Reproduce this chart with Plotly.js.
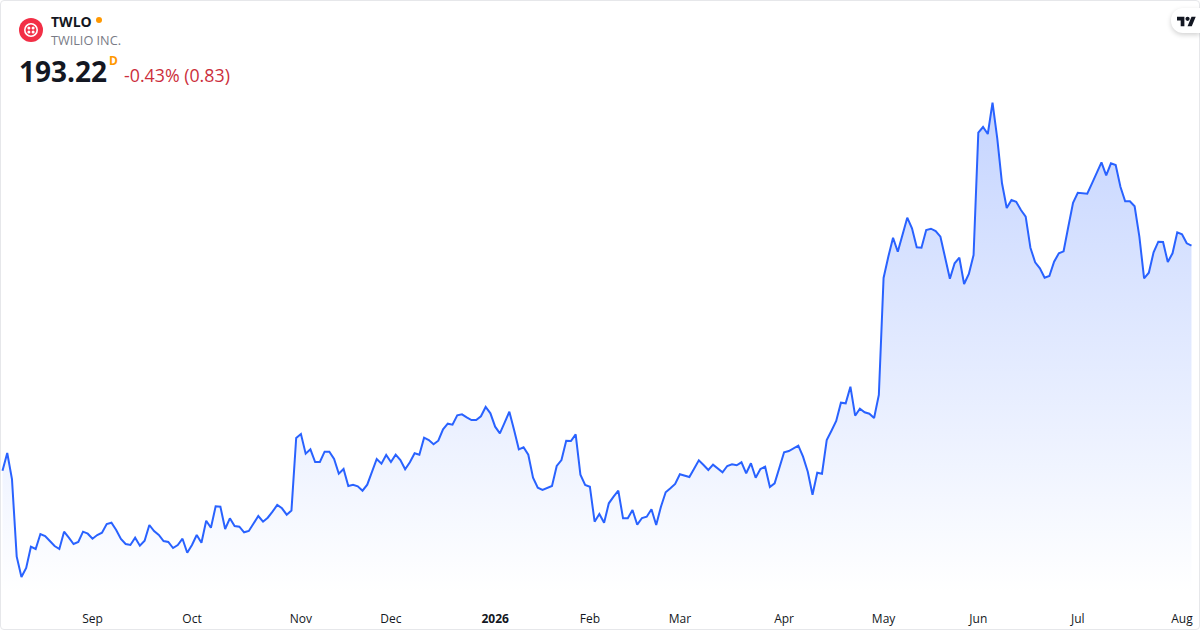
<!DOCTYPE html>
<html>
<head>
<meta charset="utf-8">
<script src="https://cdn.plot.ly/plotly-3.0.1.min.js"></script>
<style>
html,body{margin:0;padding:0;background:#fff;width:1200px;height:630px;overflow:hidden}
#chart{position:absolute;left:0;top:0;width:1200px;height:630px}
#frame{position:absolute;left:0;top:0;width:1198px;height:628px;border:1px solid #e6e7ea;border-radius:4px;pointer-events:none}
#logo{position:absolute;left:19px;top:18px;width:24px;height:24px}
#dot{position:absolute;left:96px;top:17px;width:6px;height:6px;border-radius:50%;background:#ff9800}
#badge{position:absolute;left:1171px;top:8px;width:29px;height:25px;background:#fff;border-radius:12px 0 0 12px;box-shadow:0 2px 5px rgba(0,0,0,.18)}
#badge svg{position:absolute;left:6px;top:6px;width:19px;height:15px}
</style>
</head>
<body>
<div id="chart"></div>
<div id="frame"></div>
<svg id="logo" viewBox="0 0 24 24"><circle cx="12" cy="12" r="12" fill="#f22f46"/><circle cx="12" cy="12" r="6.2" fill="none" stroke="#fff" stroke-width="1.6"/><circle cx="9.9" cy="9.9" r="1.5" fill="#fff"/><circle cx="14.1" cy="9.9" r="1.5" fill="#fff"/><circle cx="9.9" cy="14.1" r="1.5" fill="#fff"/><circle cx="14.1" cy="14.1" r="1.5" fill="#fff"/></svg>
<div id="dot"></div>
<div id="badge"><svg viewBox="0 0 36 26" fill="#131722"><path d="M14 22H7V11H0V4h14v18zM28 22h-8l7.5-18h8L28 22z"/><circle cx="20" cy="8" r="4"/></svg></div>
<script>
const prices = [
125.72,131.03,123.23,99.92,93.83,96.53,102.92,102.23,106.73,106.13,104.63,103.13,102.23,107.42,105.62,103.73,104.33,107.42,106.82,105.32,
106.43,107.12,109.73,110.12,107.93,105.23,103.73,103.43,105.62,103.22,104.72,109.43,107.63,106.43,104.63,104.33,102.53,103.43,105.32,101.12,
103.43,106.43,104.12,110.72,108.62,115.04,114.92,108.23,111.44,109.13,108.92,107.24,107.63,109.94,112.13,110.42,111.62,113.42,115.43,114.44,
112.52,113.78,135.53,136.73,130.82,132.14,128.33,128.33,131.42,131.42,129.23,124.82,126.23,121.13,121.52,121.04,119.72,121.52,125.33,129.23,
127.82,130.43,128.33,130.52,128.93,126.14,128.24,130.94,130.52,135.62,134.93,133.64,134.72,138.14,139.82,139.52,142.34,142.64,141.74,140.93,
140.93,142.04,144.83,142.94,138.92,136.94,140.12,143.42,137.93,132.14,132.74,130.52,123.62,120.62,119.93,120.53,121.13,127.13,128.93,134.72,
134.63,136.64,124.52,121.43,120.92,110.42,112.73,110.12,115.94,117.92,119.72,111.44,111.44,113.93,109.52,111.53,111.92,114.14,109.43,114.92,
119.24,120.44,121.73,124.64,124.34,123.83,126.32,128.84,127.43,125.93,127.52,126.32,125.24,127.13,127.64,127.34,128.24,124.94,127.94,123.62,
126.23,126.92,120.83,121.94,126.62,131.24,131.63,132.32,133.22,129.92,125.42,118.52,125.12,124.82,134.93,137.72,140.63,146.12,145.94,150.92,
142.22,144.32,143.24,142.82,141.53,148.43,183.53,189.92,195.62,191.42,196.94,201.62,198.44,192.74,192.62,197.93,198.32,197.63,195.92,189.44,
183.32,187.94,189.62,181.73,184.73,190.43,227.12,228.83,226.73,236.12,225.44,211.94,204.53,206.93,206.42,203.93,201.92,192.62,188.24,186.44,
183.62,184.13,188.42,190.94,191.54,198.92,206.12,209.12,209.03,208.82,211.94,215.33,218.24,214.34,217.94,217.43,210.92,206.54,206.54,205.04,
195.92,183.44,185.12,191.24,194.42,194.33,188.33,190.94,197.24,196.64,193.94,193.22
];
const sessions = prices.map((_, i) => i);
const tickSessions = [19,40,63,82,104,124,143,165,186,206,227,249];
const tickLabels = ['Sep','Oct','Nov','Dec','<b>2026</b>','Feb','Mar','Apr','May','Jun','Jul','Aug'];

const trace = {
  x: sessions, y: prices, type: 'scatter', mode: 'lines',
  line: {color: '#2962ff', width: 2, shape: 'linear'},
  fill: 'tozeroy',
  fillgradient: {
    type: 'vertical', start: 236, stop: 89,
    colorscale: [[0, 'rgba(41,98,255,0.27)'], [1, 'rgba(41,98,255,0.0)']]
  },
  hoverinfo: 'skip'
};
const font = 'Open Sans, sans-serif';
function label(text, x, y, size, color, weight) {
  return {text, xref:'paper', yref:'paper', x: x/1200, y: 1 - y/610, xanchor:'left', yanchor:'middle',
    showarrow:false, align:'left', borderpad:0, font:{family:font, size, color, weight: weight||400}};
}
const layout = {
  width: 1200, height: 630,
  margin: {l:0, r:0, t:0, b:20, pad:0},
  paper_bgcolor: '#fff', plot_bgcolor: '#fff',
  showlegend: false,
  xaxis: {
    range: [-0.528, 252.8], tickmode:'array', tickvals: tickSessions, ticktext: tickLabels,
    showgrid:false, zeroline:false, showline:false, ticks:'', ticklen:0,
    tickfont:{family:font, size:12, color:'#131722'}, fixedrange:true
  },
  yaxis: {range:[83.93, 266.93], visible:false, fixedrange:true},
  annotations: [
    label('TWLO', 50, 21, 14, '#131722', 700),
    label('TWILIO INC.', 50, 40.5, 12.7, '#787b86'),
    label('193.22', 17.5, 70.5, 28, '#131722', 700),
    label('D', 108, 61, 12, '#ff9800', 700),
    label('-0.43% (0.83)', 122.5, 74.5, 17.8, '#cc2f3c')
  ]
};
Plotly.newPlot('chart', [trace], layout, {displayModeBar:false, staticPlot:true});
</script>
</body>
</html>
